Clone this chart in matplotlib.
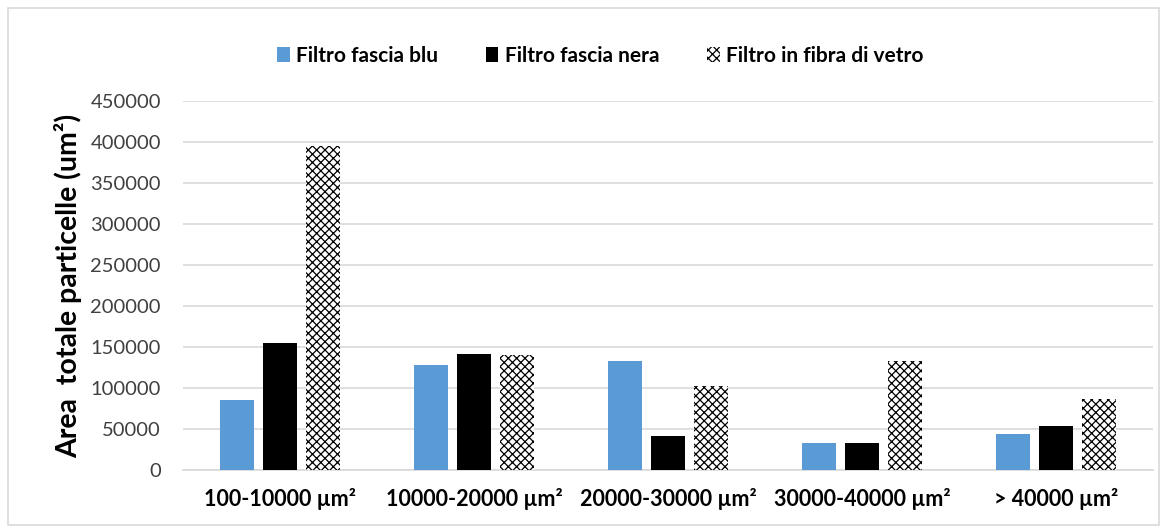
import numpy as np
import matplotlib
matplotlib.use("Agg")
import matplotlib.pyplot as plt
from matplotlib.patches import Rectangle

plt.rcParams["font.family"] = ["Lato", "DejaVu Sans"]
plt.rcParams["hatch.linewidth"] = 0.9

categories = ["100-10000 µm²", "10000-20000 µm²", "20000-30000 µm²",
              "30000-40000 µm²", "> 40000 µm²"]
blu = [85000, 127500, 132500, 33000, 43500]
nera = [155500, 142000, 41500, 33000, 53500]
vetro = [395000, 140000, 102000, 132500, 86500]

fig = plt.figure(figsize=(11.66, 5.29), dpi=100)
ax = fig.add_axes([0.157, 0.1115, 0.832, 0.6975])

x = np.arange(len(categories))
w = 0.175
step = 0.221
ax.bar(x - step, blu, w, color="#5B9BD5", label="Filtro fascia blu", zorder=3)
ax.bar(x, nera, w, color="black", label="Filtro fascia nera", zorder=3)
ax.bar(x + step, vetro, w, color="white", edgecolor="black", hatch="xxxx",
       linewidth=0, label="Filtro in fibra di vetro", zorder=3)

ax.set_xlim(-0.5, len(categories) - 0.5)
ax.set_ylim(0, 450000)
ax.set_yticks(np.arange(0, 450001, 50000))
ax.yaxis.grid(True, color="#D9D9D9", linewidth=1.2, zorder=0)
for s in ["top", "right", "left"]:
    ax.spines[s].set_visible(False)
ax.spines["bottom"].set_color("#D9D9D9")
ax.spines["bottom"].set_linewidth(1.2)
ax.tick_params(axis="both", length=0)
ax.tick_params(axis="y", labelsize=14.5, labelcolor="#404040", pad=16)
ax.set_xticks(x)
ax.set_xticklabels(categories, fontsize=15.5, fontweight="bold", color="black")
ax.tick_params(axis="x", pad=13)
ax.set_ylabel("Area  totale particelle (um²)", fontsize=20.5, fontweight="bold",
              labelpad=6)

ax.legend(loc="lower center", bbox_to_anchor=(0.43, 1.045), ncol=3, frameon=False,
          prop={"weight": "bold", "size": 15}, handlelength=0.6, handleheight=0.7,
          columnspacing=2.3, handletextpad=0.3)

fig.patches.append(Rectangle((0.007, 0.008), 0.987, 0.977, transform=fig.transFigure,
                             fill=False, edgecolor="#D9D9D9", linewidth=1.2))

plt.savefig("out.png", dpi=100)
